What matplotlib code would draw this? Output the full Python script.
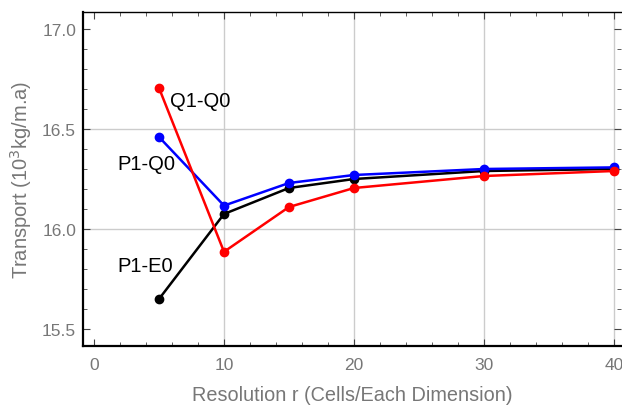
import matplotlib
matplotlib.use("Agg")
import matplotlib.pyplot as plt
from matplotlib.ticker import MultipleLocator

plt.rcParams['font.family'] = ['Liberation Sans', 'DejaVu Sans']

r = [5, 10, 15, 20, 30, 40]
q1_q0 = [16.705, 15.886, 16.11, 16.205, 16.265, 16.29]
p1_q0 = [16.46, 16.117, 16.23, 16.27, 16.30, 16.308]
p1_e0 = [15.65, 16.075, 16.205, 16.25, 16.29, 16.30]

series = [
    ("P1-E0", p1_e0, "black", (3.9, 15.815)),
    ("P1-Q0", p1_q0, "blue", (4.0, 16.325)),
    ("Q1-Q0", q1_q0, "red", (8.2, 16.64)),
]

fig = plt.figure(figsize=(6.22, 4.06), dpi=100)
ax = fig.add_axes([83/622, 59/406, 538/622, 334/406])

for name, vals, color, (lx, ly) in series:
    ax.plot(r, vals, color=color, marker='o', markersize=6, linewidth=1.8)
    ax.text(lx, ly, name, color='black', fontsize=14.5, ha='center', va='center')

ax.set_xlim(-0.85, 40.55)
ax.set_ylim(15.415, 17.085)
ax.xaxis.set_major_locator(MultipleLocator(10))
ax.xaxis.set_minor_locator(MultipleLocator(2))
ax.yaxis.set_major_locator(MultipleLocator(0.5))
ax.yaxis.set_minor_locator(MultipleLocator(0.1))
ax.yaxis.set_major_formatter(plt.FormatStrFormatter('%.1f'))

for v in [10, 20, 30, 40]:
    ax.axvline(v, color='#cccccc', linewidth=1, zorder=0)
for v in [16.0, 16.5]:
    ax.axhline(v, color='#cccccc', linewidth=1, zorder=0)

ax.tick_params(which='both', direction='in', top=True, right=True,
               colors='#444444', labelcolor='#777777', labelsize=12.5)
ax.tick_params(axis='x', pad=8)
ax.tick_params(axis='y', pad=5)
ax.tick_params(which='major', length=5)
ax.tick_params(which='minor', length=3)

for side in ['left', 'bottom']:
    ax.spines[side].set_linewidth(1.6)
    ax.spines[side].set_color('black')
ax.spines['top'].set_linewidth(1.0)
ax.spines['top'].set_color('black')
ax.spines['right'].set_visible(False)

ax.set_xlabel("Resolution r (Cells/Each Dimension)", color='#777777', fontsize=14.3, labelpad=9)
ax.set_ylabel("Transport (10$^3$kg/m.a)", color='#777777', fontsize=14.5, labelpad=6)

fig.savefig("out.png", dpi=100)
